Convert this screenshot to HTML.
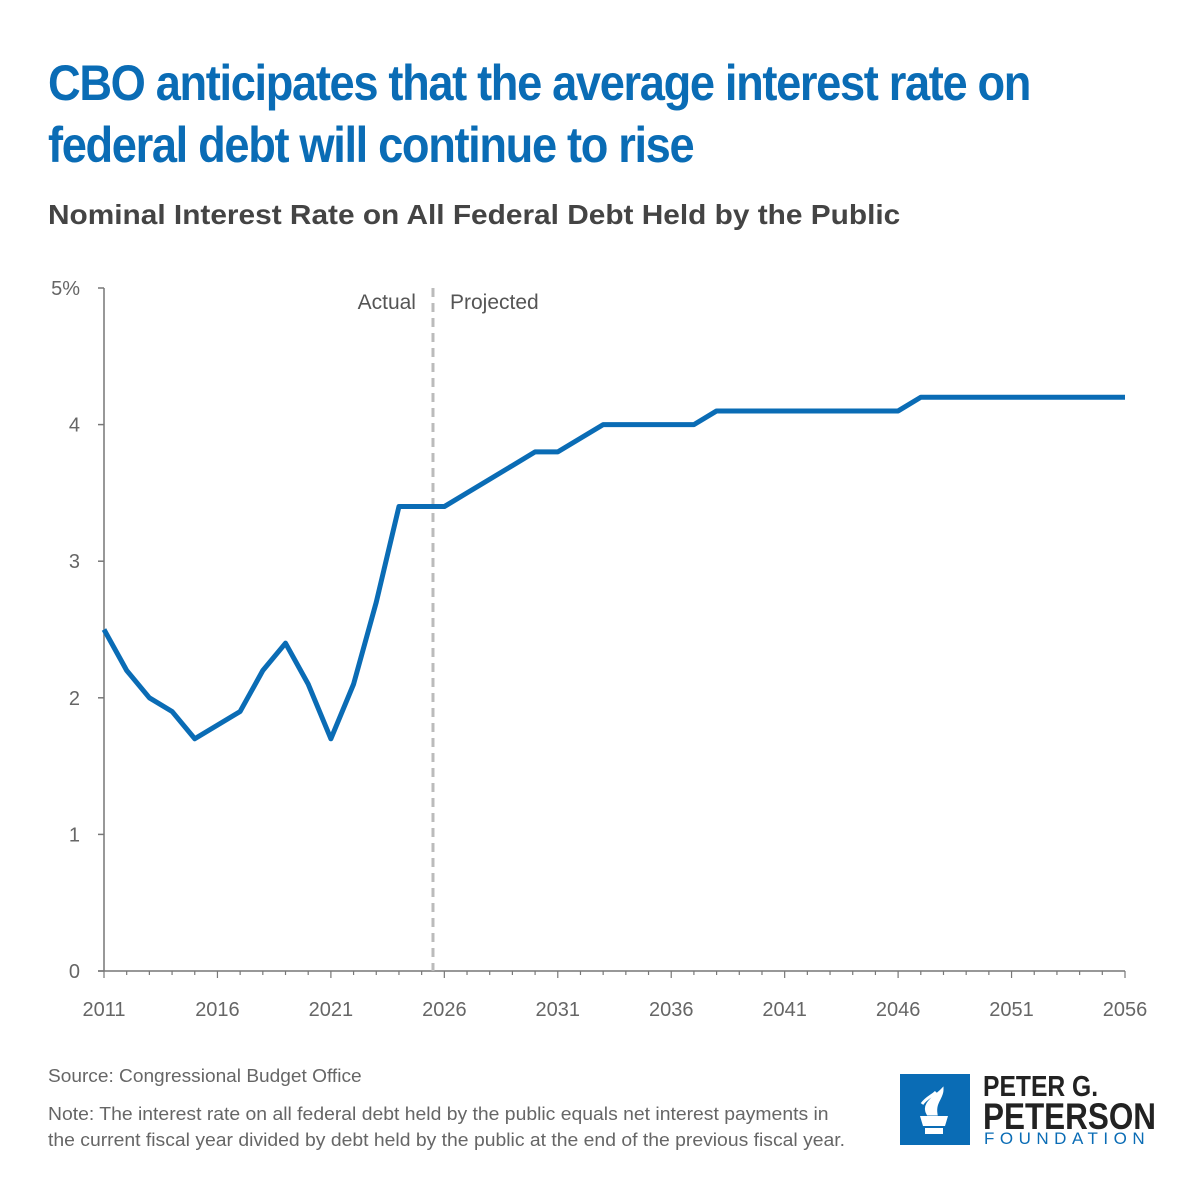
<!DOCTYPE html>
<html><head><meta charset="utf-8">
<style>
body{margin:0;width:1200px;height:1200px;background:#fff;font-family:"Liberation Sans",sans-serif;overflow:hidden;position:relative}
.t{position:absolute;white-space:nowrap}
</style></head><body>
<div class="t" style="left:48px;top:52px;font-size:50px;font-weight:bold;color:#0a6cb5;line-height:62px;letter-spacing:-1.5px;transform:scaleX(0.905);transform-origin:left">CBO anticipates that the average interest rate on<br>federal debt will continue to rise</div>
<div class="t" style="left:48px;top:199px;font-size:28px;font-weight:bold;color:#444;transform:scaleX(1.065);transform-origin:left">Nominal Interest Rate on All Federal Debt Held by the Public</div>
<svg id="chart" width="1200" height="1060" style="position:absolute;left:0;top:0"></svg>
<div class="t" style="left:48px;top:1066px;font-size:18px;color:#666;transform:scaleX(1.06);transform-origin:left">Source: Congressional Budget Office</div>
<div class="t" style="left:48px;top:1101px;font-size:18px;color:#666;line-height:26px;transform:scaleX(1.075);transform-origin:left">Note: The interest rate on all federal debt held by the public equals net interest payments in<br>the current fiscal year divided by debt held by the public at the end of the previous fiscal year.</div>
<div style="position:absolute;left:900px;top:1074px;width:70px;height:71px;background:#0a6cb5">
<svg width="70" height="71"><path d="M20 42h28l-3 10h-22z M25 54h18v6h-18z" fill="#fff"/><path d="M28 40c-6-10 6-16 14-24c0 8-8 12-6 24z M22 30c4-6 10-8 14-12" stroke="#fff" stroke-width="3" fill="#fff"/></svg></div>
<div class="t" style="left:983px;top:1072px;font-weight:bold;color:#222;line-height:30px;font-size:29px;transform:scaleX(0.85);transform-origin:left">PETER G.<br><span style="font-size:37px">PETERSON</span></div>
<div class="t" style="left:984px;top:1129px;font-size:17px;color:#0a6cb5;letter-spacing:5.5px">FOUNDATION</div>
<script>
const years=[2011,2012,2013,2014,2015,2016,2017,2018,2019,2020,2021,2022,2023,2024,2025,2026,2027,2028,2029,2030,2031,2032,2033,2034,2035,2036,2037,2038,2039,2040,2041,2042,2043,2044,2045,2046,2047,2048,2049,2050,2051,2052,2053,2054,2055,2056];
const rates=[2.5,2.2,2.0,1.9,1.7,1.8,1.9,2.2,2.4,2.1,1.7,2.1,2.7,3.4,3.4,3.4,3.5,3.6,3.7,3.8,3.8,3.9,4.0,4.0,4.0,4.0,4.0,4.1,4.1,4.1,4.1,4.1,4.1,4.1,4.1,4.1,4.2,4.2,4.2,4.2,4.2,4.2,4.2,4.2,4.2,4.2];
const xTicks=[2011,2016,2021,2026,2031,2036,2041,2046,2051,2056];
const yTicks=[0,1,2,3,4,5];
const yLabels=["0","1","2","3","4","5%"];
const splitYear=2025.5;
const svg=document.getElementById('chart');
const NS='http://www.w3.org/2000/svg';
const X=y=>104+(y-2011)*(1125-104)/45;
const Y=v=>971-v*(971-288)/5;
function mk(t,a){const e=document.createElementNS(NS,t);for(const k in a)e.setAttribute(k,a[k]);svg.appendChild(e);return e;}
let ax=mk('line',{x1:104,x2:104,y1:288,y2:971,stroke:'#777','stroke-width':1.5});


let bx=mk('line',{x1:98,x2:1125,y1:971,y2:971,stroke:'#777','stroke-width':1.5});


yTicks.forEach((v,i)=>{mk('line',{x1:98,x2:104,y1:Y(v),y2:Y(v),stroke:'#777','stroke-width':1.5});
const t=mk('text',{x:80,y:Y(v)+7,'text-anchor':'end','font-size':20,fill:'#666'});t.textContent=yLabels[i];

});
for(let y=2011;y<=2056;y++){mk('line',{x1:X(y),x2:X(y),y1:971,y2:xTicks.includes(y)?978:975,stroke:'#777','stroke-width':1.2});}
xTicks.forEach(y=>{const t=mk('text',{x:X(y),y:1016,'text-anchor':'middle','font-size':20,fill:'#666'});t.textContent=y;

});
let d=mk('line',{x1:X(splitYear),x2:X(splitYear),y1:288,y2:971,stroke:'#bbb','stroke-width':3,'stroke-dasharray':'9,6'});


let a=mk('text',{x:X(splitYear)-17,y:309,'text-anchor':'end','font-size':21,fill:'#555'});a.textContent='Actual';


let p=mk('text',{x:X(splitYear)+17,y:309,'font-size':21,fill:'#555'});p.textContent='Projected';


let l=mk('polyline',{points:years.map((y,i)=>X(y)+','+Y(rates[i])).join(' '),fill:'none',stroke:'#0a6cb5','stroke-width':5,'stroke-linejoin':'round'});


</script>
</body></html>
